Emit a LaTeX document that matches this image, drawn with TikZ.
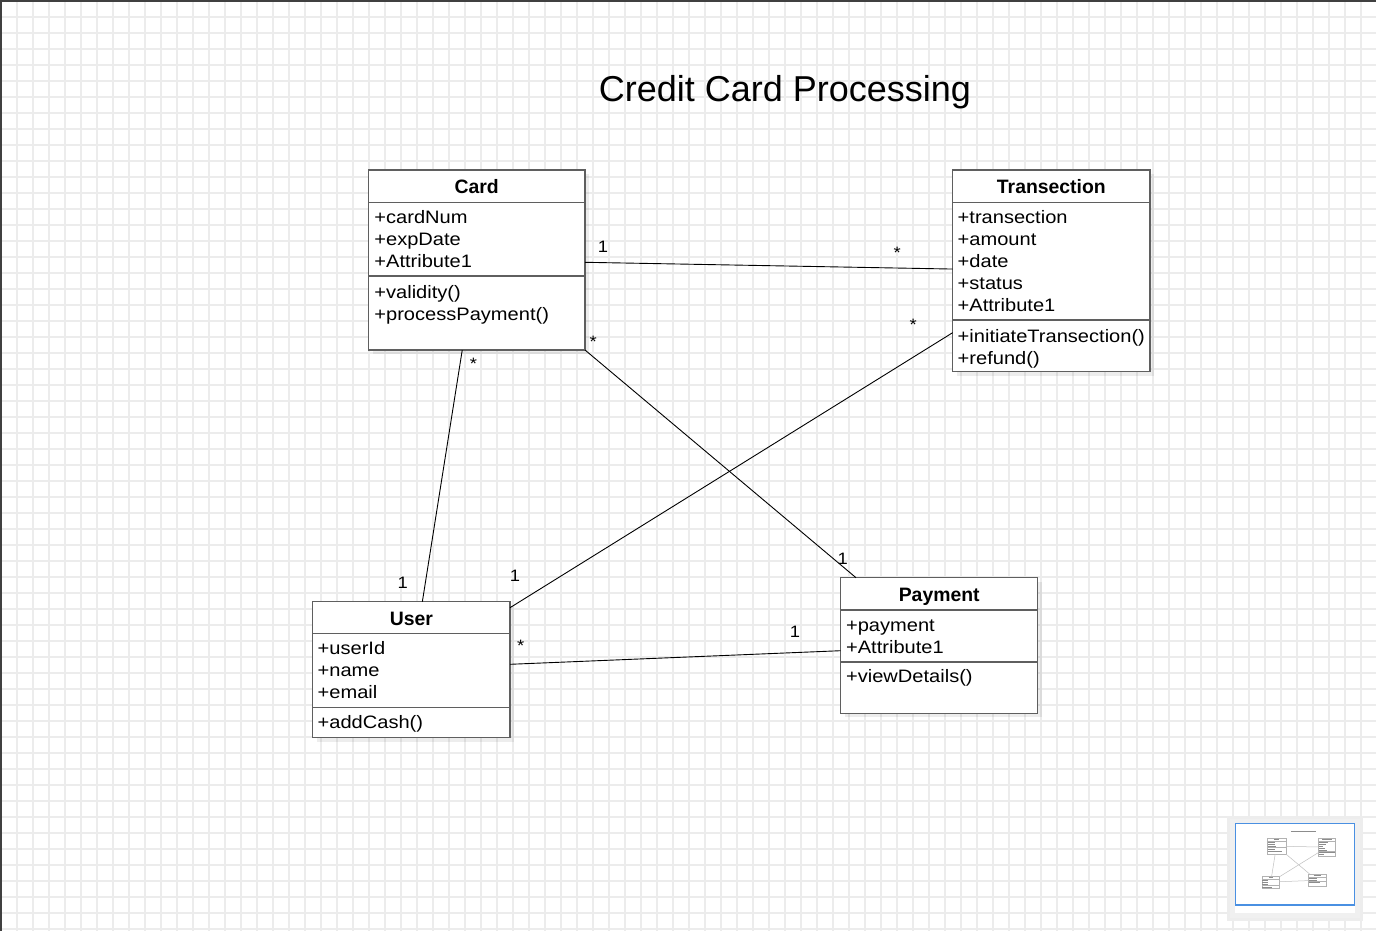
\documentclass[tikz,border=0pt]{standalone}
\usepackage{fontspec}
\setmainfont{Liberation Sans}
\newfontfamily\bodyfont[FakeStretch=1.115]{Liberation Sans}
\usetikzlibrary{shadows}
\definecolor{gridc}{RGB}{236,236,236}
\definecolor{boxc}{RGB}{95,95,95}
\definecolor{miniblue}{RGB}{74,144,226}
\newcommand\rowfont{\bodyfont\fontsize{18}{21}\selectfont}
\newcommand\labfont{\bodyfont\fontsize{16.5}{19}\selectfont}
\newcommand\headfont{\bfseries\fontsize{19.4}{22}\selectfont}
\begin{document}
\begin{tikzpicture}[x=1pt,y=-1pt,
  gridline/.style={draw=gridc, line width=1.1pt},
  classbox/.style={draw=boxc, line width=1.3pt, fill=white, rectangle, inner sep=0pt, outer sep=0pt, anchor=north west,
     drop shadow={shadow xshift=4pt, shadow yshift=-4pt, fill=black, opacity=0.07}},
  sepline/.style={draw=boxc, line width=1.3pt},
  headtext/.style={font=\headfont, inner sep=0pt, anchor=base},
  rowtext/.style={font=\rowfont, inner sep=0pt, anchor=base west},
  conn/.style={draw=black, line width=0.9pt},
  lab/.style={font=\labfont, inner sep=0pt, anchor=center},
  minibox/.style={draw=black!30, line width=0.5pt},
  minitext/.style={draw=black!45, line width=0.6pt},
  miniconn/.style={draw=black!25, line width=0.5pt}
]
\useasboundingbox (0,0) rectangle (1376,931);
\fill[white] (0,0) rectangle (1376,931);
% grid
\foreach \i in {0,...,86} \draw[gridline] ({16*\i+1},0) -- ({16*\i+1},931);
\foreach \j in {0,...,58} \draw[gridline] (0,{16*\j+1}) -- (1376,{16*\j+1});
% frame edges
\draw[black!75, line width=1.6pt] (0,0.8) -- (1376,0.8);
\draw[black!75, line width=1.6pt] (0.8,0) -- (0.8,931);

% title
\node[font=\fontsize{36}{40}\selectfont, inner sep=0pt, anchor=base] (title) at (785,101.7) {Credit Card Processing};

% ---------- Card ----------
\node[classbox, minimum width=216.5pt, minimum height=180pt] (card) at (368.5,170) {};
\draw[sepline] (368.5,202.3) -- (585,202.3);
\draw[sepline] (368.5,276) -- (585,276);
\node[headtext] (cardH) at (476.75,193.3) {Card};
\foreach \t [count=\i] in {+cardNum,+expDate,+Attribute1}
  \node[rowtext] (cardA\i) at (374.2,{223.3+22*(\i-1)}) {\t};
\foreach \t [count=\i] in {+validity(),+processPayment()}
  \node[rowtext] (cardM\i) at (374.2,{298.3+22*(\i-1)}) {\t};

% ---------- Transection ----------
\node[classbox, minimum width=197.3pt, minimum height=201.7pt] (trans) at (952.7,170) {};
\draw[sepline] (952.7,202.3) -- (1150,202.3);
\draw[sepline] (952.7,320) -- (1150,320);
\node[headtext] (transH) at (1051.35,193.3) {Transection};
\foreach \t [count=\i] in {+transection,+amount,+date,+status,+Attribute1}
  \node[rowtext] (transA\i) at (957.5,{223.3+22*(\i-1)}) {\t};
\foreach \t [count=\i] in {+initiateTransection(),+refund()}
  \node[rowtext] (transM\i) at (957.5,{342.3+22*(\i-1)}) {\t};

% ---------- User ----------
\node[classbox, minimum width=197.3pt, minimum height=136pt] (user) at (312.7,601.7) {};
\draw[sepline] (312.7,633.3) -- (510,633.3);
\draw[sepline] (312.7,707.7) -- (510,707.7);
\node[headtext] (userH) at (411.35,625) {User};
\foreach \t [count=\i] in {+userId,+name,+email}
  \node[rowtext] (userA\i) at (317.5,{654.3+22*(\i-1)}) {\t};
\node[rowtext] (userM1) at (317.5,728.5) {+addCash()};

% ---------- Payment ----------
\node[classbox, minimum width=197pt, minimum height=135.6pt] (pay) at (840.7,577.7) {};
\draw[sepline] (840.7,610) -- (1037.7,610);
\draw[sepline] (840.7,662) -- (1037.7,662);
\node[headtext] (payH) at (939.2,601) {Payment};
\foreach \t [count=\i] in {+payment,+Attribute1}
  \node[rowtext] (payA\i) at (845.9,{631+22*(\i-1)}) {\t};
\node[rowtext] (payM1) at (845.9,682.7) {+viewDetails()};

% ---------- connectors ----------
\draw[conn] ([yshift=-2.3pt]card.east) -- ([yshift=1.8pt]trans.west);
\draw[conn] ([xshift=-14.5pt]card.south) -- ([xshift=11pt]user.north);
\draw[conn] (card.south east) -- ([xshift=15.3pt]pay.north west);
\draw[conn] ([yshift=-61.8pt]trans.west) -- ([yshift=-6pt]user.north east);
\draw[conn] ([yshift=5.4pt]user.east) -- ([yshift=-5.2pt]pay.west);

% ---------- multiplicities ----------
\node[lab] (l1) at (603,247) {1};
\node[lab] (l2) at (897.3,252.8) {*};
\node[lab] (l3) at (473.5,364) {*};
\node[lab] (l4) at (593.3,341.5) {*};
\node[lab] (l5) at (402.7,583.3) {1};
\node[lab] (l6) at (515,575.7) {1};
\node[lab] (l7) at (520.7,645.5) {*};
\node[lab] (l8) at (842.7,559.3) {1};
\node[lab] (l9) at (795,631.7) {1};
\node[lab] (l10) at (913.3,324.5) {*};

% ---------- outline (minimap) ----------
\fill[black!7] (1227,816) rectangle (1363,921);
\fill[black!6] (1230,819) rectangle (1360,918);
\fill[white] (1235,823) rectangle (1355,913);
\draw[miniblue, line width=1.2pt] (1235.5,823.5) rectangle (1354.5,905);
\begin{scope}[shift={(1234.5,823.3)}, scale=0.088]
  \draw[minitext, line width=0.8pt] (640,88) -- (930,88);
  % boxes
  \draw[minibox] (369,170) rectangle (585,350);
  \draw[minibox] (369,202) -- (585,202); \draw[minibox] (369,276) -- (585,276);
  \draw[minibox] (953,170) rectangle (1150,372);
  \draw[minibox] (953,202) -- (1150,202); \draw[minibox] (953,320) -- (1150,320);
  \draw[minibox] (313,602) rectangle (510,738);
  \draw[minibox] (313,633) -- (510,633); \draw[minibox] (313,708) -- (510,708);
  \draw[minibox] (841,578) rectangle (1038,713);
  \draw[minibox] (841,610) -- (1038,610); \draw[minibox] (841,662) -- (1038,662);
  % text marks
  \draw[minitext] (450,186) -- (505,186);
  \foreach \y/\l in {216/90,238/85,260/95,292/85,314/170} \draw[minitext] (375,\y) -- (375+\l,\y);
  \draw[minitext] (995,186) -- (1105,186);
  \foreach \y/\l in {216/110,238/80,260/50,282/65,304/95,334/185,356/60} \draw[minitext] (958,\y) -- (958+\l,\y);
  \draw[minitext] (390,618) -- (432,618);
  \foreach \y/\l in {648/65,670/60,692/60,722/105} \draw[minitext] (318,\y) -- (318+\l,\y);
  \draw[minitext] (898,594) -- (980,594);
  \foreach \y/\l in {624/88,646/95,676/125} \draw[minitext] (846,\y) -- (846+\l,\y);
  % connectors
  \draw[miniconn] (585,262) -- (953,269);
  \draw[miniconn] (462,350) -- (422,602);
  \draw[miniconn] (585,350) -- (856,578);
  \draw[miniconn] (953,333) -- (510,608);
  \draw[miniconn] (510,664) -- (841,651);
\end{scope}
\end{tikzpicture}
\end{document}
